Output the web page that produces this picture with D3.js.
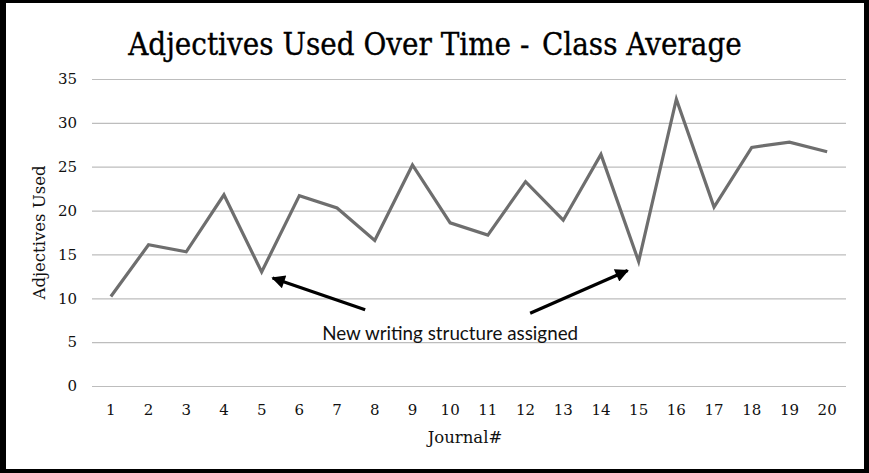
<!DOCTYPE html>
<html>
<head>
<meta charset="utf-8">
<script src="https://cdn.jsdelivr.net/npm/d3@7"></script>
<style>
  body { margin: 0; background: #fff; }
  svg { display: block; }
</style>
</head>
<body>
<svg id="chart" width="869" height="473"></svg>
<script>
// Journal entries along the x axis
const journals = ["1","2","3","4","5","6","7","8","9","10","11","12","13","14","15","16","17","18","19","20"];
// Class-average adjective counts per journal
const adjectives = [10.2, 16.1, 15.3, 21.8, 13.0, 21.7, 20.3, 16.6, 25.2, 18.6, 17.2, 23.3, 18.9, 26.4, 14.2, 32.7, 20.4, 27.2, 27.8, 26.7];
// Value-axis ticks
const yTicks = [0, 5, 10, 15, 20, 25, 30, 35];
// Journals where the new writing structure was introduced
const structureJournals = ["5", "15"];

const titleParts = ["Adjectives Used Over Time -", "Class Average"];
const yTitle = "Adjectives Used";
const xTitle = "Journal#";
const noteText = "New writing structure assigned";

const W = 869, H = 473;
const margin = { top: 79, right: 23, bottom: 87, left: 92 };
const plotW = W - margin.left - margin.right;
const plotH = H - margin.top - margin.bottom;

const svg = d3.select("#chart");
const serif = "'DejaVu Serif', 'Liberation Serif', serif";

svg.append("rect").attr("width", W).attr("height", H).attr("fill", "#fff");

const x = d3.scaleBand().domain(journals).range([0, plotW]);
const y = d3.scaleLinear().domain([0, 35]).range([plotH, 0]);
const cx = j => x(j) + x.bandwidth() / 2;

const g = svg.append("g").attr("transform", `translate(${margin.left},${margin.top})`);

// horizontal gridlines with left tick labels
const yAxis = g.append("g")
  .call(d3.axisLeft(y).tickValues(yTicks).tickSize(-plotW).tickPadding(15).tickFormat(d3.format("d")));
yAxis.select(".domain").remove();
yAxis.selectAll(".tick line").attr("stroke", "#bdbdbd").attr("stroke-width", 1.2);
yAxis.selectAll(".tick text")
  .attr("font-family", serif).attr("font-size", 15).attr("fill", "#111");

// category labels
const xAxis = g.append("g").attr("transform", `translate(0,${plotH})`)
  .call(d3.axisBottom(x).tickSize(0).tickPadding(18));
xAxis.select(".domain").remove();
xAxis.selectAll(".tick text")
  .attr("font-family", serif).attr("font-size", 15).attr("fill", "#111");

// the series line
const line = d3.line()
  .x((d, i) => cx(journals[i]))
  .y(d => y(d));
g.append("path")
  .datum(adjectives)
  .attr("fill", "none")
  .attr("stroke", "#6e6e6e")
  .attr("stroke-width", 3.2)
  .attr("stroke-linejoin", "miter")
  .attr("d", line);

// title, fitted to its span
const titleCx = 435;
const title = svg.append("text")
  .attr("x", titleCx).attr("y", 55)
  .attr("text-anchor", "middle")
  .attr("font-family", serif)
  .attr("font-size", 31)
  .attr("fill", "#000")
  .attr("stroke", "#000").attr("stroke-width", 0.35);
title.append("tspan").text(titleParts[0]);
title.append("tspan").attr("dx", 14).text(titleParts[1]);
const tw = title.node().getComputedTextLength() + 14;
const targetTW = 614;
title.attr("transform", `translate(${titleCx},0) scale(${targetTW / tw},1) translate(${-titleCx},0)`);

// axis titles
svg.append("text")
  .attr("transform", `translate(45,${margin.top + plotH / 2}) rotate(-90)`)
  .attr("text-anchor", "middle")
  .attr("font-family", serif).attr("font-size", 16.5).attr("fill", "#111")
  .text(yTitle);
svg.append("text")
  .attr("x", margin.left + plotW / 2 - 4).attr("y", 443)
  .attr("text-anchor", "middle")
  .attr("font-family", serif).attr("font-size", 16.5).attr("fill", "#111")
  .text(xTitle);

// annotation text, centred between the two dips
const noteCx = (cx(structureJournals[0]) + cx(structureJournals[1])) / 2;
const note = g.append("text")
  .attr("x", noteCx).attr("y", y(0) - 46)
  .attr("text-anchor", "middle")
  .attr("font-family", "Lato, 'Open Sans', sans-serif")
  .attr("font-size", 16).attr("fill", "#111")
  .text(noteText);
const nw = note.node().getComputedTextLength();
note.attr("font-size", 16 * 256 / nw);

// arrows from the note to the two dips
svg.append("defs").append("marker")
  .attr("id", "head").attr("viewBox", "0 0 10 10")
  .attr("refX", 9).attr("refY", 5)
  .attr("markerWidth", 5).attr("markerHeight", 4.2)
  .attr("orient", "auto")
  .append("path").attr("d", "M0,0 L10,5 L0,10 Z").attr("fill", "#000");

const arrowSpecs = [
  { j: structureJournals[0], tail: [noteCx - 85, y(8.7)], off: [11, 6] },
  { j: structureJournals[1], tail: [noteCx + 80, y(8.3)], off: [-11, 9] }
];
arrowSpecs.forEach(a => {
  const i = journals.indexOf(a.j);
  g.append("line")
    .attr("x1", a.tail[0]).attr("y1", a.tail[1])
    .attr("x2", cx(a.j) + a.off[0]).attr("y2", y(adjectives[i]) + a.off[1])
    .attr("stroke", "#000").attr("stroke-width", 3.2)
    .attr("marker-end", "url(#head)");
});

// outer frame
svg.append("path")
  .attr("d", `M0,0 H${W} V${H} H0 Z M6,3 V469 H864 V3 Z`)
  .attr("fill", "#000")
  .attr("fill-rule", "evenodd");
</script>
</body>
</html>
